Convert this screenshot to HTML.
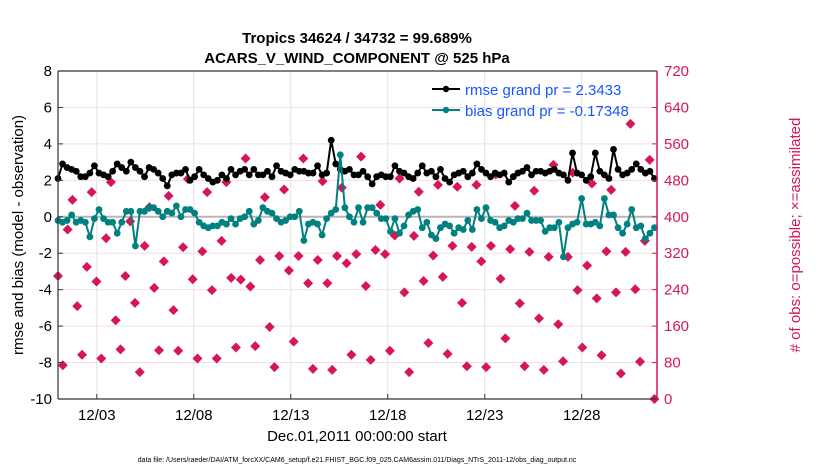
<!DOCTYPE html>
<html><head><meta charset="utf-8"><style>
body{margin:0;background:#fff;width:830px;height:470px;overflow:hidden}
svg text{font-family:"Liberation Sans",sans-serif}
</style></head><body>
<svg id="chart" width="830" height="470" xmlns="http://www.w3.org/2000/svg">
<rect x="0" y="0" width="830" height="470" fill="#fff"/>
<g id="grid"></g>
<g id="obs"></g>
<g id="series"></g>
<g id="axes"></g>
<text x="357" y="43" text-anchor="middle" font-size="15" font-weight="bold">Tropics 34624 / 34732 = 99.689%</text>
<text x="357" y="63" text-anchor="middle" font-size="15" font-weight="bold">ACARS_V_WIND_COMPONENT @ 525 hPa</text>
<text x="357" y="441" text-anchor="middle" font-size="15">Dec.01,2011 00:00:00 start</text>
<text x="357" y="462" text-anchor="middle" font-size="7">data file: /Users/raeder/DAI/ATM_forcXX/CAM6_setup/f.e21.FHIST_BGC.f09_025.CAM6assim.011/Diags_NTrS_2011-12/obs_diag_output.nc</text>
<text transform="translate(23,235) rotate(-90)" text-anchor="middle" font-size="15">rmse and bias (model - observation)</text>
<text transform="translate(800,235) rotate(-90)" text-anchor="middle" font-size="15" fill="#d6165a">#  of obs: o=possible; ×=assimilated</text>
<g>
<line x1="432" y1="89" x2="460" y2="89" stroke="#000" stroke-width="2"/>
<circle cx="446" cy="89" r="3.2" fill="#000"/>
<text x="465" y="95" font-size="15" fill="#1a56ff">rmse grand pr = 2.3433</text>
<line x1="432" y1="110" x2="460" y2="110" stroke="#008080" stroke-width="2"/>
<circle cx="446" cy="110" r="3.2" fill="#008080"/>
<text x="465" y="116" font-size="15" fill="#1a56ff">bias grand pr = -0.17348</text>
</g>
</svg>
<script>
const tickDays=[3,8,13,18,23,28];
const tickLabels=["12/03","12/08","12/13","12/18","12/23","12/28"];
const leftTicks=[-10,-8,-6,-4,-2,0,2,4,6,8];
const rightTicks=[0,80,160,240,320,400,480,560,640,720];
const rmse=[2.1,2.9,2.7,2.6,2.5,2.2,2.2,2.4,2.8,2.4,2.3,2.2,2.5,2.9,2.7,2.5,3.0,2.7,2.5,2.2,2.7,2.6,2.4,2.1,1.7,2.3,2.4,2.4,2.6,2.0,2.2,2.6,2.3,2.1,1.9,2.0,2.3,2.1,2.6,2.3,2.5,2.6,2.3,2.6,2.3,2.3,2.5,2.2,2.8,2.5,2.4,2.3,2.6,2.5,2.5,2.4,2.4,2.8,2.3,2.4,4.2,2.9,2.6,2.5,2.6,2.3,2.3,2.5,2.2,1.8,2.2,2.3,2.2,2.2,2.8,2.5,2.4,2.2,2.1,2.4,2.8,2.4,2.5,2.2,2.6,2.1,1.9,2.3,2.4,2.5,2.2,2.4,2.9,2.6,2.4,2.2,2.4,2.3,2.4,1.9,2.2,2.4,2.5,2.7,2.3,2.5,2.5,2.4,2.5,2.6,2.4,2.3,2.0,3.5,2.4,2.3,2.0,2.2,3.5,2.5,2.3,2.1,3.7,2.6,2.3,2.4,2.6,2.9,2.6,2.4,2.5,2.1];
const bias=[-0.2,-0.3,-0.2,0.1,-0.3,-0.2,-0.3,-1.1,-0.1,0.4,-0.1,-0.3,-0.3,-0.9,-0.3,0.3,0.3,-1.6,0.3,0.3,0.5,0.5,0.3,0.0,0.3,0.2,0.6,0.0,0.4,0.4,0.2,-0.3,-0.5,-0.6,-0.5,-0.5,-0.3,-0.4,-0.1,-0.4,-0.1,0.0,0.3,-0.4,-0.2,0.5,0.3,0.2,-0.1,-0.3,-0.2,0.0,0.0,0.3,-1.3,-0.4,-0.3,-0.4,-1.0,-0.1,0.2,0.4,3.4,0.5,0.0,-0.3,0.5,-0.3,0.5,0.5,0.2,-0.1,-0.1,-0.8,-0.1,-0.9,-0.5,0.1,0.3,0.4,-0.6,-0.3,-1.0,-1.2,-0.6,-0.4,-0.5,-0.9,-0.6,-0.7,-0.2,-0.7,0.4,-0.1,0.5,-0.2,-0.3,-0.6,-0.5,-0.2,-0.3,-0.1,-0.1,0.2,-0.2,-0.2,-0.2,-0.8,-0.6,-0.6,-0.3,-2.2,-0.6,-0.4,-0.3,1.0,-0.4,-0.4,-0.3,-0.5,1.0,0.1,0.1,-0.6,-0.9,-0.4,0.4,-0.6,-0.5,-1.2,-0.9,-0.6];
const obsCounts=[270,74,372,437,204,97,290,454,258,89,353,476,173,109,270,390,211,59,336,421,244,107,302,446,195,106,333,483,263,89,324,454,239,89,347,476,266,113,262,528,247,116,305,443,158,70,314,460,282,126,314,528,254,66,305,478,254,64,314,464,298,97,318,532,248,86,327,426,318,106,359,484,234,59,358,455,259,123,315,470,268,99,336,466,211,72,334,470,302,70,336,493,264,133,329,424,210,72,323,457,177,64,312,514,164,83,312,497,239,113,293,473,221,96,324,459,234,56,323,604,241,82,347,525,0];
const NS="http://www.w3.org/2000/svg";
const L=58,R=657,T=71,B=399;
const dayMin=1,dayMax=31.88;
function xs(d){return L+(d-dayMin)/(dayMax-dayMin)*(R-L);}
function yl(v){return B-(v+10)/18*(B-T);}
function yr(v){return B-v/720*(B-T);}
const tFirst=1.0,tLast=31.75;
function tAt(i,n){return tFirst+i*(tLast-tFirst)/(n-1);}
function mk(tag,attrs,parent){const e=document.createElementNS(NS,tag);for(const k in attrs)e.setAttribute(k,attrs[k]);parent.appendChild(e);return e;}
const grid=document.getElementById('grid'),axes=document.getElementById('axes'),obsG=document.getElementById('obs'),ser=document.getElementById('series');
tickDays.forEach((d,i)=>{
 const g=mk('line',{x1:xs(d),x2:xs(d),y1:T,y2:B,stroke:'#e2e2e2','stroke-width':1},grid);
 
 
 mk('line',{x1:xs(d),x2:xs(d),y1:B,y2:B-5,stroke:'#333'},axes);
 const t=mk('text',{x:xs(d),y:B+21,'text-anchor':'middle','font-size':15},axes);
 t.textContent=tickLabels[i];
 
 
});
rightTicks.forEach(v=>{
 const g=mk('line',{x1:L,x2:R,y1:yr(v),y2:yr(v),stroke:'#f5dbe4','stroke-width':1},grid);
 
 
 mk('line',{x1:R,x2:R-5,y1:yr(v),y2:yr(v),stroke:'#d6165a'},axes);
 const t=mk('text',{x:R+7,y:yr(v)+5,'font-size':15,fill:'#d6165a'},axes);
 t.textContent=v;
 
 
});
leftTicks.forEach(v=>{
 mk('line',{x1:L,x2:L+5,y1:yl(v),y2:yl(v),stroke:'#333'},axes);
 const t=mk('text',{x:L-6,y:yl(v)+5,'text-anchor':'end','font-size':15},axes);
 t.textContent=v;
 
 
});
const zl=mk('line',{x1:L,x2:R,y1:yl(0),y2:yl(0),stroke:'#bdb3b6','stroke-width':2},grid);


mk('line',{x1:L,x2:L,y1:T,y2:B,stroke:'#333',"stroke-width":1.2},axes);
mk('line',{x1:L,x2:R,y1:T,y2:T,stroke:'#333',"stroke-width":1.2},axes);
mk('line',{x1:L,x2:R,y1:B,y2:B,stroke:'#333',"stroke-width":1.2},axes);
mk('line',{x1:R,x2:R,y1:T,y2:B,stroke:'#d6165a',"stroke-width":1.5},axes);
obsCounts.forEach((c,i)=>{
 const x=xs(tAt(i,obsCounts.length)),y=yr(c);
 const p=mk('path',{d:`M${x-5},${y}L${x},${y-5}L${x+5},${y}L${x},${y+5}Z`,fill:'#d6165a'},obsG);
 
 
});
function drawSeries(arr,color,name){
 const pts=arr.map((v,i)=>[xs(tAt(i,arr.length)),yl(v)]);
 const pl=mk('polyline',{points:pts.map(p=>p.join(',')).join(' '),fill:'none',stroke:color,'stroke-width':2},ser);
 
 
 pts.forEach(p=>{
  const c=mk('circle',{cx:p[0],cy:p[1],r:3.4,fill:color},ser);
  
  
 });
}
drawSeries(rmse,'#000','rmse');
drawSeries(bias,'#008080','bias');
</script>
</body></html>
